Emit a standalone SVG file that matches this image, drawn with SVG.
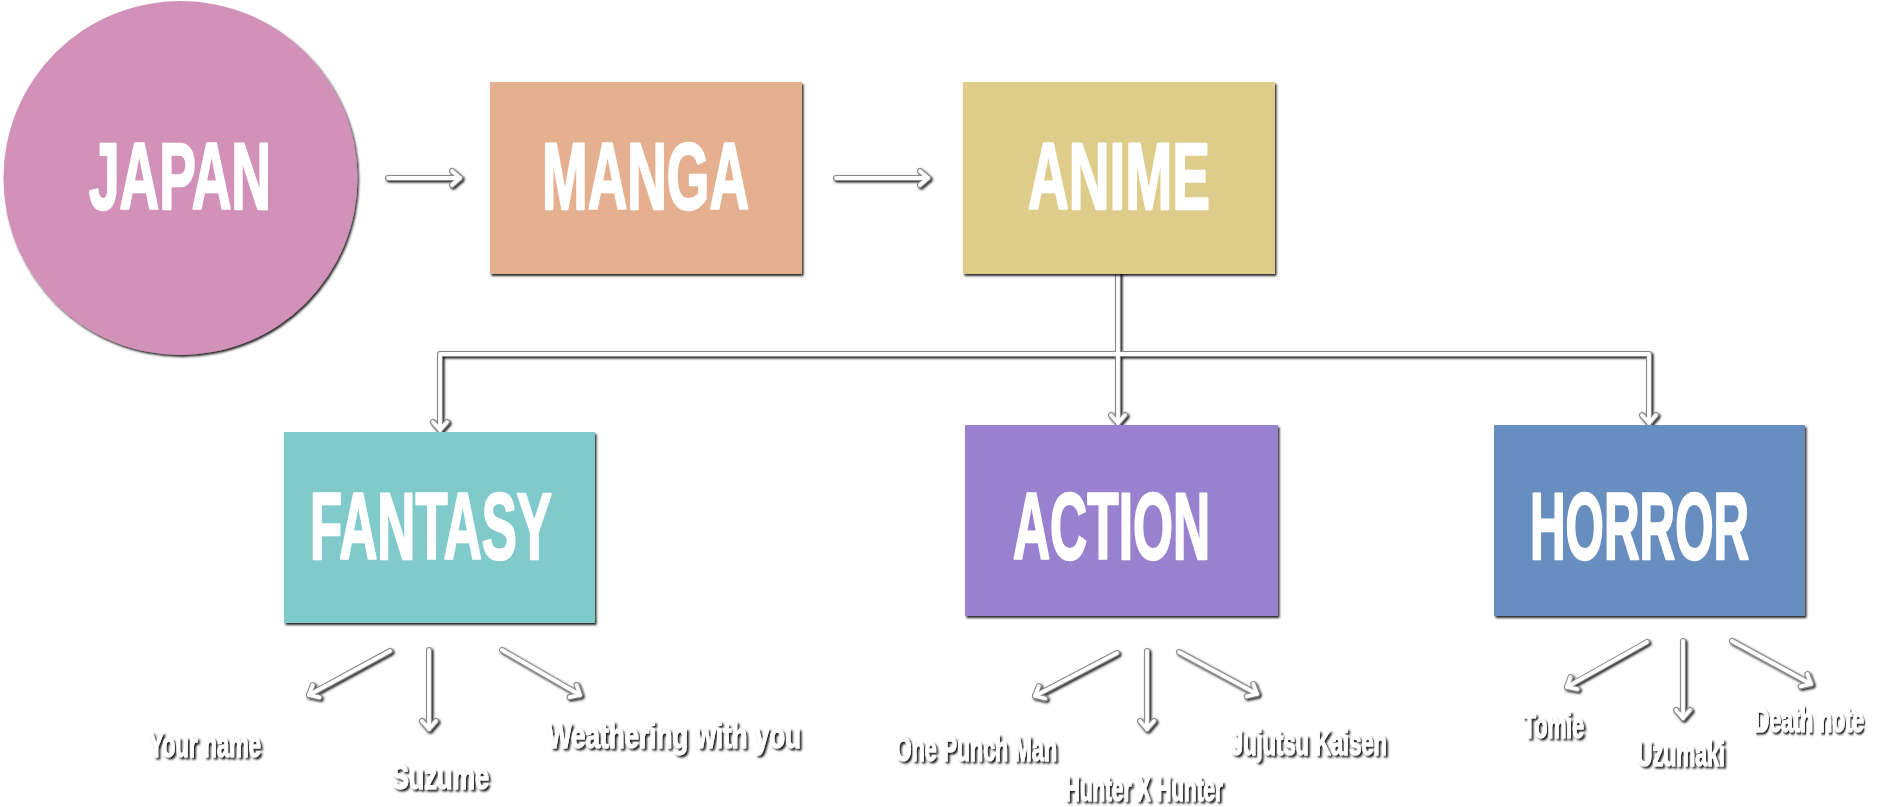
<svg xmlns="http://www.w3.org/2000/svg" width="1878" height="807" viewBox="0 0 1878 807">
  <defs>
    <style>
      .big { font-family: "Liberation Sans Narrow", "Liberation Sans", Arial, sans-serif; font-weight: bold; font-size: 95px; fill: #ffffff; stroke: #ffffff; stroke-width: 2.5; stroke-linejoin: round; }
      .lbl { font-family: "Liberation Sans Narrow", "Liberation Sans", Arial, sans-serif; font-weight: bold; font-size: 35px; fill: #ffffff; stroke: #ffffff; stroke-width: 1; stroke-linejoin: round; filter: url(#txtShadow); }
      .edge { fill: none; stroke-linecap: round; stroke-linejoin: round; }
      .under .edge { stroke: #8a8a8a; stroke-width: 6; }
      .over .edge { stroke: #ffffff; stroke-width: 3.8; }
    </style>
    <filter id="boxShadow" x="-10%" y="-10%" width="120%" height="125%">
      <feDropShadow dx="1.5" dy="2" stdDeviation="1.3" flood-color="#000000" flood-opacity="0.85"/>
    </filter>
    <filter id="lineShadow" x="-5%" y="-5%" width="110%" height="110%">
      <feDropShadow dx="1.5" dy="1.5" stdDeviation="1" flood-color="#000000" flood-opacity="0.9"/>
    </filter>
    <filter id="txtShadow" x="-10%" y="-30%" width="125%" height="160%">
      <feDropShadow dx="2" dy="2" stdDeviation="1.2" flood-color="#000000" flood-opacity="0.9"/>
    </filter>
    <marker id="chevU" viewBox="-14 -12 20 24" refX="0" refY="0" markerWidth="20" markerHeight="24" markerUnits="userSpaceOnUse" orient="auto">
      <path d="M-8,-7 L0,0 L-8,7" fill="none" stroke="#8a8a8a" stroke-width="6" stroke-linecap="round" stroke-linejoin="round"/>
    </marker>
    <marker id="chevO" viewBox="-14 -12 20 24" refX="0" refY="0" markerWidth="20" markerHeight="24" markerUnits="userSpaceOnUse" orient="auto">
      <path d="M-8,-7 L0,0 L-8,7" fill="none" stroke="#ffffff" stroke-width="3.8" stroke-linecap="round" stroke-linejoin="round"/>
    </marker>
  </defs>

  <rect x="0" y="0" width="1878" height="807" fill="#ffffff"/>

  <g id="connectors" filter="url(#lineShadow)">
    <g class="under">
      <path class="edge" d="M388,178 L460,178" marker-end="url(#chevU)"/>
      <path class="edge" d="M836,178 L928,178" marker-end="url(#chevU)"/>
      <path class="edge" d="M1118,274 L1118,423" marker-end="url(#chevU)"/>
      <path class="edge" d="M1118,354 L440,354 L440,430" marker-end="url(#chevU)"/>
      <path class="edge" d="M1118,354 L1649,354 L1649,423" marker-end="url(#chevU)"/>
      <path class="edge" d="M390,651 L309,695" marker-end="url(#chevU)"/>
      <path class="edge" d="M429,650 L429,729" marker-end="url(#chevU)"/>
      <path class="edge" d="M502,650 L580,695" marker-end="url(#chevU)"/>
      <path class="edge" d="M1117,653 L1035,696" marker-end="url(#chevU)"/>
      <path class="edge" d="M1147,651 L1147,729" marker-end="url(#chevU)"/>
      <path class="edge" d="M1179,652 L1257,694" marker-end="url(#chevU)"/>
      <path class="edge" d="M1647,642 L1567,687" marker-end="url(#chevU)"/>
      <path class="edge" d="M1683,641 L1683,718" marker-end="url(#chevU)"/>
      <path class="edge" d="M1732,641 L1811,684" marker-end="url(#chevU)"/>
    </g>
    <g class="over">
      <path class="edge" d="M388,178 L460,178" marker-end="url(#chevO)"/>
      <path class="edge" d="M836,178 L928,178" marker-end="url(#chevO)"/>
      <path class="edge" d="M1118,274 L1118,423" marker-end="url(#chevO)"/>
      <path class="edge" d="M1118,354 L440,354 L440,430" marker-end="url(#chevO)"/>
      <path class="edge" d="M1118,354 L1649,354 L1649,423" marker-end="url(#chevO)"/>
      <path class="edge" d="M390,651 L309,695" marker-end="url(#chevO)"/>
      <path class="edge" d="M429,650 L429,729" marker-end="url(#chevO)"/>
      <path class="edge" d="M502,650 L580,695" marker-end="url(#chevO)"/>
      <path class="edge" d="M1117,653 L1035,696" marker-end="url(#chevO)"/>
      <path class="edge" d="M1147,651 L1147,729" marker-end="url(#chevO)"/>
      <path class="edge" d="M1179,652 L1257,694" marker-end="url(#chevO)"/>
      <path class="edge" d="M1647,642 L1567,687" marker-end="url(#chevO)"/>
      <path class="edge" d="M1683,641 L1683,718" marker-end="url(#chevO)"/>
      <path class="edge" d="M1732,641 L1811,684" marker-end="url(#chevO)"/>
    </g>
  </g>

  <g id="japan">
    <circle cx="180.5" cy="178" r="177" fill="#D291B9" filter="url(#boxShadow)"/>
    <text class="big" x="89" y="209" textLength="182" lengthAdjust="spacingAndGlyphs">JAPAN</text>
  </g>
  <g id="manga">
    <rect x="490" y="82" width="312" height="192" fill="#E4B090" filter="url(#boxShadow)"/>
    <text class="big" x="542" y="209" textLength="207" lengthAdjust="spacingAndGlyphs">MANGA</text>
  </g>
  <g id="anime">
    <rect x="963" y="82" width="312" height="192" fill="#DECC8B" filter="url(#boxShadow)"/>
    <text class="big" x="1028" y="209" textLength="182" lengthAdjust="spacingAndGlyphs">ANIME</text>
  </g>
  <g id="fantasy">
    <rect x="284" y="432" width="311" height="191" fill="#81CACC" filter="url(#boxShadow)"/>
    <text class="big" x="310" y="559" textLength="242" lengthAdjust="spacingAndGlyphs">FANTASY</text>
  </g>
  <g id="action">
    <rect x="965" y="425" width="313" height="191" fill="#9A81D0" filter="url(#boxShadow)"/>
    <text class="big" x="1013" y="559" textLength="197" lengthAdjust="spacingAndGlyphs">ACTION</text>
  </g>
  <g id="horror">
    <rect x="1494" y="425" width="311" height="191" fill="#688EC0" filter="url(#boxShadow)"/>
    <text class="big" transform="translate(1530,559) scale(0.519,1)" x="0" y="0">HORROR</text>
  </g>

  <g id="your-name"><text class="lbl" x="149" y="757" textLength="112" lengthAdjust="spacingAndGlyphs">Your name</text></g>
  <g id="suzume"><text class="lbl" x="392" y="789" textLength="97" lengthAdjust="spacingAndGlyphs">Suzume</text></g>
  <g id="weathering"><text class="lbl" x="547" y="748" textLength="254" lengthAdjust="spacingAndGlyphs">Weathering with you</text></g>
  <g id="one-punch-man"><text class="lbl" x="895" y="761" textLength="162" lengthAdjust="spacingAndGlyphs">One Punch Man</text></g>
  <g id="hunter"><text class="lbl" x="1065" y="801" textLength="158" lengthAdjust="spacingAndGlyphs">Hunter X Hunter</text></g>
  <g id="jujutsu"><text class="lbl" x="1231" y="755" textLength="156" lengthAdjust="spacingAndGlyphs">Jujutsu Kaisen</text></g>
  <g id="tomie"><text class="lbl" x="1523" y="738" textLength="61" lengthAdjust="spacingAndGlyphs">Tomie</text></g>
  <g id="uzumaki"><text class="lbl" x="1637" y="766" textLength="88" lengthAdjust="spacingAndGlyphs">Uzumaki</text></g>
  <g id="death-note"><text class="lbl" transform="translate(1754,732) scale(0.61,1)" x="0" y="0">Death note</text></g>
</svg>
